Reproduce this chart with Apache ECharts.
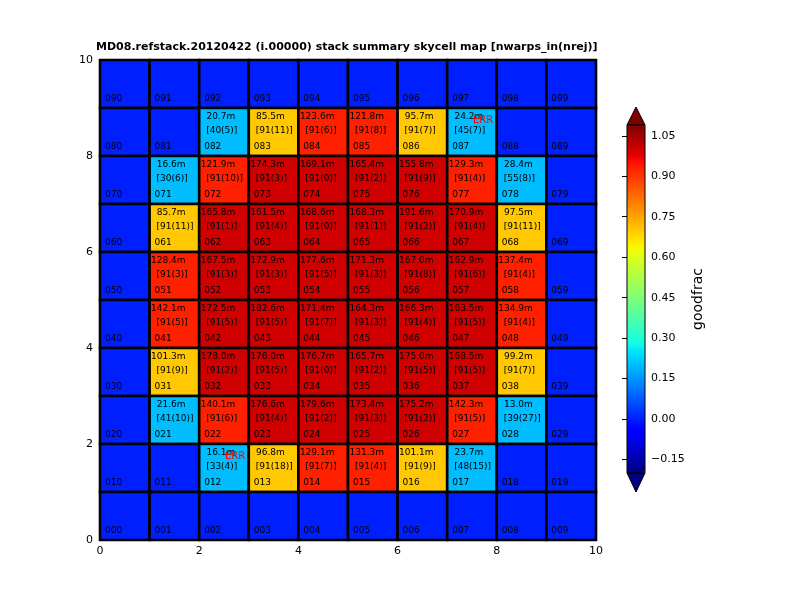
<!DOCTYPE html>
<html>
<head>
<meta charset="utf-8">
<script src="https://cdn.jsdelivr.net/npm/echarts@6/dist/echarts.min.js"></script>
<style>html,body{margin:0;padding:0;background:#fff;}#c{width:800px;height:600px;}</style>
</head>
<body>
<div id="c"></div>
<script>
// Rows listed top (y=9) to bottom (y=0)
const rowY = [9, 8, 7, 6, 5, 4, 3, 2, 1, 0];
const colX = [0, 1, 2, 3, 4, 5, 6, 7, 8, 9];
const cellNames = [
  ['090','091','092','093','094','095','096','097','098','099'],
  ['080','081','082','083','084','085','086','087','088','089'],
  ['070','071','072','073','074','075','076','077','078','079'],
  ['060','061','062','063','064','065','066','067','068','069'],
  ['050','051','052','053','054','055','056','057','058','059'],
  ['040','041','042','043','044','045','046','047','048','049'],
  ['030','031','032','033','034','035','036','037','038','039'],
  ['020','021','022','023','024','025','026','027','028','029'],
  ['010','011','012','013','014','015','016','017','018','019'],
  ['000','001','002','003','004','005','006','007','008','009']
];
const exposure = [
  ['','','','','','','','','',''],
  ['','','20.7m','85.5m','123.6m','121.8m','95.7m','24.2m','',''],
  ['','16.6m','121.9m','174.3m','169.1m','165.4m','155.8m','129.3m','28.4m',''],
  ['','85.7m','165.8m','161.5m','168.6m','168.3m','191.6m','170.9m','97.5m',''],
  ['','128.4m','167.5m','172.9m','177.6m','171.3m','167.0m','162.9m','137.4m',''],
  ['','142.1m','172.5m','182.6m','171.4m','164.3m','166.3m','163.5m','134.9m',''],
  ['','101.3m','178.0m','176.0m','176.7m','165.7m','175.0m','168.5m','99.2m',''],
  ['','21.6m','140.1m','176.6m','179.6m','173.4m','175.2m','142.3m','13.0m',''],
  ['','','16.1m','96.8m','129.1m','131.3m','101.1m','23.7m','',''],
  ['','','','','','','','','','']
];
const warps = [
  ['','','','','','','','','',''],
  ['','','[40(5)]','[91(11)]','[91(6)]','[91(8)]','[91(7)]','[45(7)]','',''],
  ['','[30(6)]','[91(10)]','[91(3)]','[91(0)]','[91(2)]','[91(9)]','[91(4)]','[55(8)]',''],
  ['','[91(11)]','[91(1)]','[91(4)]','[91(0)]','[91(1)]','[91(2)]','[91(4)]','[91(11)]',''],
  ['','[91(3)]','[91(3)]','[91(3)]','[91(5)]','[91(3)]','[91(8)]','[91(6)]','[91(4)]',''],
  ['','[91(5)]','[91(5)]','[91(5)]','[91(7)]','[91(3)]','[91(4)]','[91(5)]','[91(4)]',''],
  ['','[91(9)]','[91(2)]','[91(5)]','[91(0)]','[91(2)]','[91(5)]','[91(5)]','[91(7)]',''],
  ['','[41(10)]','[91(6)]','[91(4)]','[91(2)]','[91(3)]','[91(2)]','[91(5)]','[39(27)]',''],
  ['','','[33(4)]','[91(18)]','[91(7)]','[91(4)]','[91(9)]','[48(15)]','',''],
  ['','','','','','','','','','']
];
const goodfrac = [
  [0,0,0,0,0,0,0,0,0,0],
  [0,0,0.2,0.7,0.93,0.93,0.7,0.2,0,0],
  [0,0.2,0.93,1,1,1,1,0.93,0.2,0],
  [0,0.7,1,1,1,1,1,1,0.7,0],
  [0,0.93,1,1,1,1,1,1,0.93,0],
  [0,0.93,1,1,1,1,1,1,0.93,0],
  [0,0.7,1,1,1,1,1,1,0.7,0],
  [0,0.2,0.93,1,1,1,1,0.93,0.2,0],
  [0,0,0.2,0.7,0.93,0.93,0.7,0.2,0,0],
  [0,0,0,0,0,0,0,0,0,0]
];
const errCells = ['087', '012'];
const xTicks = [0, 2, 4, 6, 8, 10];
const cbarTicks = [-0.15, 0, 0.15, 0.30, 0.45, 0.60, 0.75, 0.90, 1.05];
const cbarMin = -0.2, cbarMax = 1.09;
const titleText = 'MD08.refstack.20120422 (i.00000) stack summary skycell map [nwarps_in(nrej)]';

// jet colormap (matplotlib segment definition)
function jet(t) {
  let r, g, b;
  if (t < 0.35) r = 0; else if (t < 0.66) r = (t - 0.35) / 0.31; else if (t < 0.89) r = 1; else r = 1 - 0.5 * (t - 0.89) / 0.11;
  if (t < 0.125) g = 0; else if (t < 0.375) g = (t - 0.125) / 0.25; else if (t < 0.64) g = 1; else if (t < 0.91) g = 1 - (t - 0.64) / 0.27; else g = 0;
  if (t < 0.11) b = 0.5 + 0.5 * t / 0.11; else if (t < 0.34) b = 1; else if (t < 0.65) b = 1 - (t - 0.34) / 0.31; else b = 0;
  const c = v => Math.round(Math.max(0, Math.min(1, v)) * 255);
  return 'rgb(' + c(r) + ',' + c(g) + ',' + c(b) + ')';
}
const jetColors = [];
for (let i = 0; i <= 200; i++) jetColors.push(jet(i / 200));

const cells = [];
const cellText = [];
rowY.forEach((y, r) => {
  colX.forEach((x, c) => {
    cells.push([x, y, goodfrac[r][c], cells.length]);
    cellText.push({
      name: cellNames[r][c], exp: exposure[r][c], warp: warps[r][c],
      err: errCells.indexOf(cellNames[r][c]) >= 0
    });
  });
});

const FONT = '"DejaVu Sans", sans-serif';

function renderCell(params, api) {
  const x = api.value(0), y = api.value(1);
  const p0 = api.coord([x, y + 1]);
  const p1 = api.coord([x + 1, y]);
  return {
    type: 'rect',
    shape: { x: p0[0], y: p0[1], width: p1[0] - p0[0], height: p1[1] - p0[1] },
    style: { fill: api.visual('color'), stroke: '#000', lineWidth: 2.6 }
  };
}

function renderLabel(params, api) {
  const x = api.value(0), y = api.value(1);
  const p0 = api.coord([x, y + 1]);
  const p1 = api.coord([x + 1, y]);
  const w = p1[0] - p0[0], h = p1[1] - p0[1];
  const t = cellText[api.value(3)];
  const kids = [];
  kids.push({ type: 'text', x: p0[0] + 0.1 * w, y: p0[1] + 0.806 * h,
    style: { text: t.name, fill: '#000', font: '9px ' + FONT, align: 'left', verticalAlign: 'middle' } });
  if (t.exp) kids.push({ type: 'text', x: p0[0] + 0.726 * w, y: p0[1] + 0.177 * h,
    style: { text: t.exp, fill: '#000', font: '9px ' + FONT, align: 'right', verticalAlign: 'middle' } });
  if (t.warp) kids.push({ type: 'text', x: p0[0] + 0.14 * w, y: p0[1] + 0.473 * h,
    style: { text: t.warp, fill: '#000', font: '9px ' + FONT, align: 'left', verticalAlign: 'middle' } });
  if (t.err) kids.push({ type: 'text', x: p0[0] + 0.52 * w, y: p0[1] + 0.25 * h,
    style: { text: 'ERR', fill: '#ff0000', font: '10px ' + FONT, align: 'left', verticalAlign: 'middle' } });
  return { type: 'group', children: kids };
}

const chart = echarts.init(document.getElementById('c'), null, { renderer: 'canvas' });
chart.setOption({
  backgroundColor: '#fff',
  animation: false,
  title: {
    text: titleText, left: 96, top: 42, padding: 0,
    textStyle: { fontFamily: FONT, fontSize: 11, fontWeight: 'bold', color: '#000' }
  },
  grid: [
    { left: 100, top: 60, width: 496, height: 480 },
    { left: 627, top: 125, width: 18, height: 348 }
  ],
  xAxis: [
    { type: 'value', gridIndex: 0, min: 0, max: 10, interval: 2,
      axisLine: { lineStyle: { color: '#000' } },
      axisTick: { inside: true, length: 4, lineStyle: { color: '#000' } },
      axisLabel: { color: '#000', fontSize: 11, fontFamily: FONT, margin: 6 },
      splitLine: { show: false } },
    { type: 'value', gridIndex: 1, min: 0, max: 1, show: false }
  ],
  yAxis: [
    { type: 'value', gridIndex: 0, min: 0, max: 10, interval: 2,
      axisLine: { lineStyle: { color: '#000' } },
      axisTick: { inside: true, length: 4, lineStyle: { color: '#000' } },
      axisLabel: { color: '#000', fontSize: 11, fontFamily: FONT, margin: 7 },
      splitLine: { show: false } },
    { type: 'value', gridIndex: 1, position: 'right', min: cbarMin, max: cbarMax,
      name: 'goodfrac', nameLocation: 'middle', nameRotate: 90, nameGap: 46,
      nameTextStyle: { color: '#000', fontSize: 14, fontFamily: FONT },
      axisLine: { show: true, lineStyle: { color: '#000' } },
      axisTick: { inside: true, length: 5, customValues: cbarTicks, lineStyle: { color: '#000' } },
      axisLabel: { color: '#000', fontSize: 11, fontFamily: FONT, margin: 6, customValues: cbarTicks,
        formatter: v => (v < 0 ? '\u2212' + (-v).toFixed(2) : v.toFixed(2)) },
      splitLine: { show: false } }
  ],
  visualMap: {
    type: 'continuous', min: cbarMin, max: cbarMax, dimension: 2, seriesIndex: 0,
    show: true, calculable: false, hoverLink: false, text: null, padding: 0,
    left: 627, top: 125, itemWidth: 18, itemHeight: 348,
    inRange: { color: jetColors }
  },
  graphic: [
    { type: 'polygon', z: 20, shape: { points: [[627, 125], [645, 125], [636, 107]] },
      style: { fill: jet(1), stroke: '#000', lineWidth: 1 } },
    { type: 'polygon', z: 20, shape: { points: [[627, 473], [645, 473], [636, 492]] },
      style: { fill: jet(0), stroke: '#000', lineWidth: 1 } },
    { type: 'rect', z: 20, shape: { x: 627, y: 125, width: 18, height: 348 },
      style: { fill: 'none', stroke: '#000', lineWidth: 1 } }
  ],
  series: [
    { type: 'custom', xAxisIndex: 0, yAxisIndex: 0, renderItem: renderCell, data: cells,
      encode: { x: 0, y: 1 }, z: 2, silent: true },
    { type: 'custom', xAxisIndex: 0, yAxisIndex: 0, renderItem: renderLabel, data: cells,
      encode: { x: 0, y: 1 }, z: 3, silent: true, itemStyle: { color: '#000' } }
  ]
});
</script>
</body>
</html>
